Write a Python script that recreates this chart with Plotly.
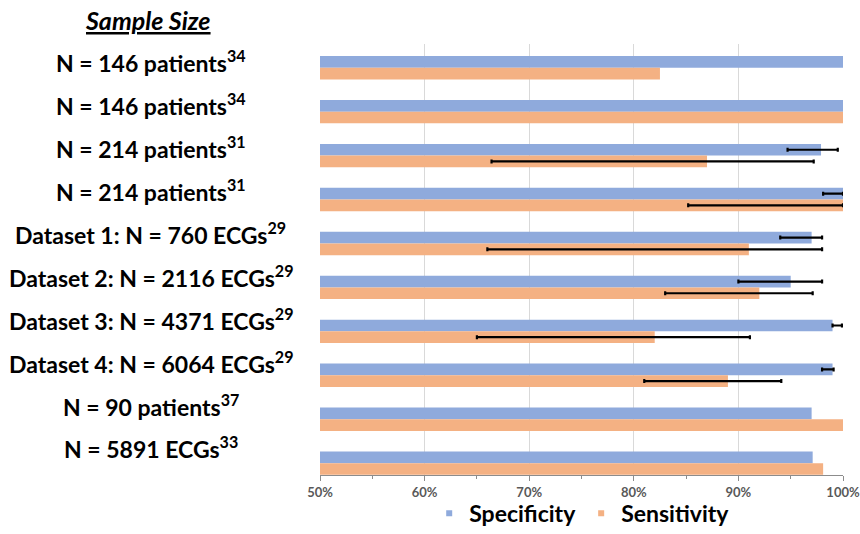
import numpy as np
import plotly.graph_objects as go

# Study labels (top to bottom) and per-study results in percent
labels = [
    "N = 146 patients<sup>34</sup>",
    "N = 146 patients<sup>34</sup>",
    "N = 214 patients<sup>31</sup>",
    "N = 214 patients<sup>31</sup>",
    "Dataset 1: N = 760 ECGs<sup>29</sup>",
    "Dataset 2: N = 2116 ECGs<sup>29</sup>",
    "Dataset 3: N = 4371 ECGs<sup>29</sup>",
    "Dataset 4: N = 6064 ECGs<sup>29</sup>",
    "N = 90 patients<sup>37</sup>",
    "N = 5891 ECGs<sup>33</sup>",
]
specificity = [100, 100, 97.9, 100, 97.0, 95.0, 99.0, 99.0, 97.0, 97.1]
spec_low = [None, None, 94.7, 98.1, 94.0, 90.0, 99.0, 98.0, None, None]
spec_high = [None, None, 99.5, 100, 98.0, 98.0, 99.9, 99.1, None, None]
sensitivity = [82.5, 100, 87.0, 100, 91.0, 92.0, 82.0, 89.0, 100, 98.1]
sens_low = [None, None, 66.4, 85.2, 66.0, 83.0, 65.0, 81.0, None, None]
sens_high = [None, None, 97.2, 100, 98.0, 97.1, 91.1, 94.1, None, None]
x_ticks = [50, 60, 70, 80, 90, 100]
x_tick_text = ["50%", "60%", "70%", "80%", "90%", "100%"]

BLUE = "#8FAADC"
ORANGE = "#F4B183"
FONT = "Lato"

rows = list(range(len(labels)))


def err(vals, lo, hi):
    # NaN entries (kept as a float array) leave that bar without an error bar
    plus = np.array([(h - v) if h is not None else np.nan for v, h in zip(vals, hi)], dtype=float)
    minus = np.array([(v - l) if l is not None else np.nan for v, l in zip(vals, lo)], dtype=float)
    return dict(type="data", symmetric=False, array=plus, arrayminus=minus,
                color="black", thickness=2.2, width=2)


fig = go.Figure()
fig.add_trace(go.Bar(
    y=rows, x=specificity, orientation="h", marker_color=BLUE,
    marker_line_width=0, name="Specificity", showlegend=False,
    error_x=err(specificity, spec_low, spec_high),
))
fig.add_trace(go.Bar(
    y=rows, x=sensitivity, orientation="h", marker_color=ORANGE,
    marker_line_width=0, name="Sensitivity", showlegend=False,
    error_x=err(sensitivity, sens_low, sens_high),
))
# Small square legend keys
for name, col in [("Specificity", BLUE), ("Sensitivity", ORANGE)]:
    fig.add_trace(go.Scatter(
        x=[None], y=[None], mode="markers", name="<b>" + name + "</b>",
        marker=dict(symbol="square", size=6, color=col),
    ))

W, H = 860, 534
L, R, T, B = 319.6, 17, 43.6, 59.4
plot_h = H - T - B
plot_w = W - L - R


def py_to_paper(py):
    return (H - B - py) / plot_h


def px_to_paper(px):
    return (px - L) / plot_w


annotations = []
for i, lab in enumerate(labels):
    annotations.append(dict(
        text="<b>" + lab + "</b>", xref="paper", yref="paper",
        x=px_to_paper(150), y=py_to_paper(61.5 + 42.9 * i),
        xanchor="center", yanchor="middle", showarrow=False,
        font=dict(family=FONT, size=23, color="black"),
    ))
annotations.append(dict(
    text="<b><i><u>Sample Size</u></i></b>", xref="paper", yref="paper",
    x=px_to_paper(147), y=py_to_paper(20), xanchor="center", yanchor="middle",
    showarrow=False, font=dict(family=FONT, size=25, color="black"),
))

fig.update_layout(
    width=W, height=H,
    margin=dict(l=L, r=R, t=T, b=B, pad=0, autoexpand=False),
    paper_bgcolor="white", plot_bgcolor="white",
    barmode="group", bargap=0.468, bargroupgap=0,
    annotations=annotations,
    legend=dict(
        orientation="h", x=px_to_paper(582), y=py_to_paper(513),
        xanchor="center", yanchor="middle",
        font=dict(family=FONT, size=23, color="black"),
        itemwidth=30, tracegroupgap=0,
        bgcolor="rgba(0,0,0,0)",
    ),
    xaxis=dict(
        range=[50, 100], tickvals=x_ticks,
        ticktext=["<b>" + t + "</b>" for t in x_tick_text],
        showgrid=True, gridcolor="#D9D9D9", gridwidth=1,
        showline=True, linecolor="#8C8C8C", linewidth=1,
        ticks="outside", ticklen=5, tickcolor="#8C8C8C",
        minor=dict(dtick=5, ticks="outside", ticklen=3, tickcolor="#8C8C8C",
                   showgrid=False),
        tickfont=dict(family=FONT, size=13, color="#595959"),
        zeroline=False, fixedrange=True, automargin=False,
    ),
    yaxis=dict(
        range=[9.27, -0.54], showticklabels=False, showgrid=False,
        zeroline=False, showline=False, ticks="", automargin=False,
    ),
)

fig.write_html("out.html")
